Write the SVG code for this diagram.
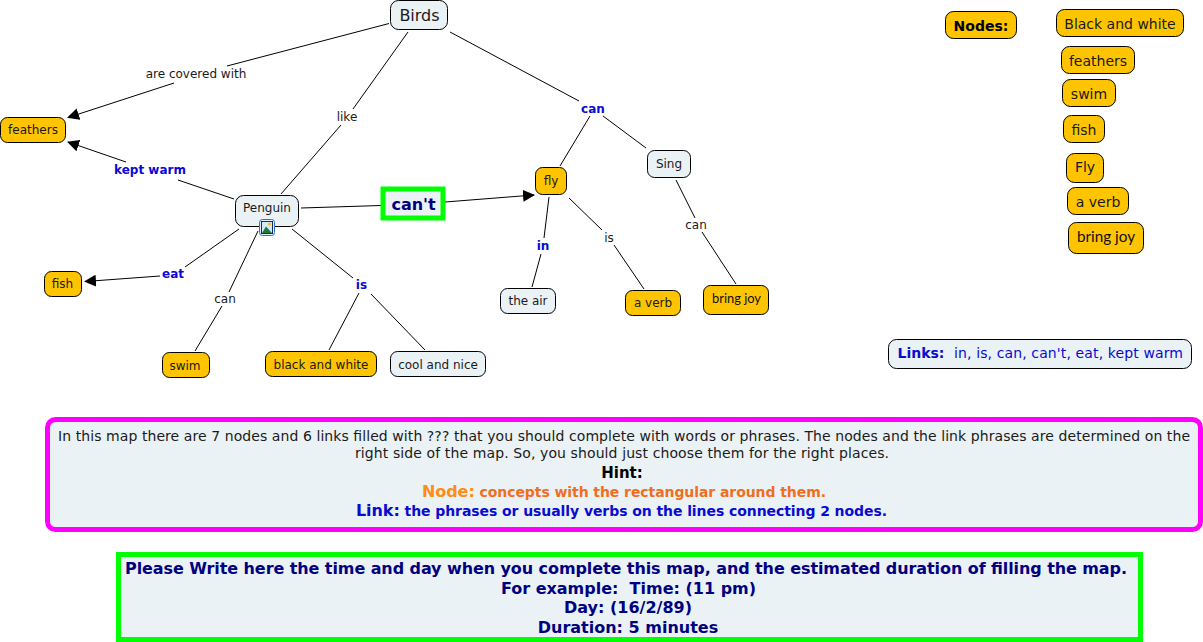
<svg xmlns="http://www.w3.org/2000/svg" width="1203" height="642" viewBox="0 0 1203 642">
<style>
text{font-family:"DejaVu Sans",Verdana,sans-serif;font-size:12px;fill:#1a1a1a;text-anchor:middle}
.n rect{stroke:#000;stroke-width:1}
.y rect{fill:#ffc400}
.g rect{fill:#ebf2f5}
.c line{stroke:#000;stroke-width:1}
.b{font-weight:bold;fill:#0a0ad2}
.r{font-size:14px}
.cm{font-family:"Lato","DejaVu Sans",sans-serif;font-weight:normal;fill:#111}
.nv{font-weight:bold;fill:#000080;font-size:16px}
</style>
<defs>
<marker id="a" markerUnits="userSpaceOnUse" markerWidth="12" markerHeight="12" viewBox="0 0 12 12" refX="11" refY="6" orient="auto"><path d="M0 0L12 6L0 12Z" fill="#000"/></marker>
</defs>
<g id="connectors" class="c">
<line x1="389" y1="23.500" x2="227" y2="66"/>
<line x1="174" y1="83" x2="68" y2="117.500" marker-end="url(#a)"/>
<line x1="408" y1="32" x2="353" y2="109"/>
<line x1="341" y1="125" x2="281" y2="194"/>
<line x1="450" y1="32" x2="579" y2="101"/>
<line x1="590" y1="116" x2="560" y2="166"/>
<line x1="603" y1="116" x2="646" y2="148"/>
<line x1="234" y1="199" x2="178" y2="180"/>
<line x1="126" y1="162" x2="68" y2="142" marker-end="url(#a)"/>
<line x1="301" y1="208" x2="381" y2="205.500"/>
<line x1="445" y1="202" x2="534" y2="195" marker-end="url(#a)"/>
<line x1="239" y1="229" x2="185" y2="267"/>
<line x1="160" y1="276" x2="85" y2="281.500" marker-end="url(#a)"/>
<line x1="258" y1="231" x2="229" y2="292"/>
<line x1="222" y1="306" x2="195" y2="351"/>
<line x1="292" y1="229" x2="353" y2="278"/>
<line x1="359" y1="293" x2="329" y2="350"/>
<line x1="371" y1="294" x2="425" y2="350"/>
<line x1="549" y1="197" x2="544" y2="238"/>
<line x1="541" y1="254" x2="532" y2="287"/>
<line x1="569" y1="198" x2="602" y2="230"/>
<line x1="614" y1="245" x2="644" y2="289"/>
<line x1="676" y1="180" x2="695" y2="218"/>
<line x1="702" y1="232" x2="736" y2="284"/>
</g>
<g id="node-birds" class="n g"><rect x="390.500" y="0.500" width="57" height="29" rx="8"/><text x="419.500" y="21" style="font-size:16px">Birds</text></g>
<g id="node-penguin" class="n g"><rect x="235.500" y="195.500" width="63" height="31" rx="8"/><text x="267" y="212">Penguin</text></g>
<g id="penguin-icon"><rect x="259.500" y="219.500" width="15" height="16" rx="3" fill="#e6f0fb" stroke="#2f6fd0"/><rect x="261.500" y="221.500" width="11" height="12" fill="#d5e8f7" stroke="#10305a"/><path d="M262 233L266 226.500L272 233Z" fill="#1f7a3a"/><circle cx="269.500" cy="224" r="1.600" fill="#f0c020"/></g>
<g id="node-feathers" class="n y"><rect x="0.500" y="117.500" width="65" height="25" rx="7"/><text x="33" y="134">feathers</text></g>
<g id="node-fish" class="n y"><rect x="44.500" y="271.500" width="37" height="25" rx="7"/><text x="62.500" y="288">fish</text></g>
<g id="node-swim" class="n y"><rect x="162.500" y="352.500" width="47" height="25" rx="7"/><text x="185" y="370">swim</text></g>
<g id="node-bw" class="n y"><rect x="265.500" y="351.500" width="111" height="25" rx="7"/><text x="321" y="368.500">black and white</text></g>
<g id="node-cool" class="n g"><rect x="390.500" y="351.500" width="95" height="25" rx="7"/><text x="438" y="368.500">cool and nice</text></g>
<g id="node-fly" class="n y"><rect x="535.500" y="167.500" width="31" height="27" rx="7"/><text x="551" y="185">fly</text></g>
<g id="node-sing" class="n g"><rect x="647.500" y="150.500" width="43" height="27" rx="7"/><text x="669" y="168">Sing</text></g>
<g id="node-air" class="n g"><rect x="500.500" y="288.500" width="55" height="25" rx="7"/><text x="528" y="305">the air</text></g>
<g id="node-verb" class="n y"><rect x="625.500" y="290.500" width="55" height="25" rx="7"/><text x="653" y="307">a verb</text></g>
<g id="node-joy" class="n y"><rect x="703.500" y="285.500" width="65" height="29" rx="7"/><text x="736.500" y="303" class="cm" style="font-size:13px" textLength="49" lengthAdjust="spacingAndGlyphs">bring joy</text></g>
<g id="label-covered"><text x="196" y="78">are covered with</text></g>
<g id="label-like"><text x="347" y="121">like</text></g>
<g id="label-can1"><text x="593" y="113" class="b">can</text></g>
<g id="label-kept"><text x="150" y="174" class="b">kept warm</text></g>
<g id="label-eat"><text x="173" y="278" class="b">eat</text></g>
<g id="label-can2"><text x="225" y="303">can</text></g>
<g id="label-is"><text x="361.500" y="289" class="b">is</text></g>
<g id="label-in"><text x="543" y="250" class="b">in</text></g>
<g id="label-is2"><text x="609" y="242">is</text></g>
<g id="label-can3"><text x="696" y="229">can</text></g>
<g id="node-cant"><rect x="383" y="189" width="60" height="29" fill="#ebf2f5" stroke="#00ff00" stroke-width="5"/><text x="413.500" y="210" style="font-size:16px;font-weight:bold;fill:#000080">can't</text></g>
<g id="node-nodes" class="n y"><rect x="945.500" y="11.500" width="71" height="27" rx="8"/><text x="981" y="31" style="font-size:14px;font-weight:bold;fill:#000">Nodes:</text></g>
<g id="legend-bw" class="n y"><rect x="1056.500" y="9.500" width="127" height="27" rx="8"/><text x="1120" y="29" class="r">Black and white</text></g>
<g id="legend-feathers" class="n y"><rect x="1061.500" y="46.500" width="73" height="27" rx="8"/><text x="1098" y="66" class="r">feathers</text></g>
<g id="legend-swim" class="n y"><rect x="1062.500" y="79.500" width="53" height="27" rx="8"/><text x="1089" y="99" class="r">swim</text></g>
<g id="legend-fish" class="n y"><rect x="1063.500" y="115.500" width="41" height="27" rx="8"/><text x="1084" y="135" class="r">fish</text></g>
<g id="legend-fly" class="n y"><rect x="1066.500" y="153.500" width="37" height="29" rx="8"/><text x="1085" y="172" class="r">Fly</text></g>
<g id="legend-verb" class="n y"><rect x="1067.500" y="187.500" width="61" height="27" rx="8"/><text x="1098" y="207" class="r">a verb</text></g>
<g id="legend-joy" class="n y"><rect x="1068.500" y="222.500" width="75" height="31" rx="8"/><text x="1106" y="242" class="cm" style="font-size:15px" textLength="58" lengthAdjust="spacingAndGlyphs">bring joy</text></g>
<g id="node-links" class="n g"><rect x="888.500" y="339.500" width="303" height="29" rx="8"/><text x="921" y="358" style="font-size:14px;font-weight:bold;fill:#0a0ad2">Links:</text><text x="1068.500" y="358" style="font-size:14px;fill:#0a0ad2" textLength="229" lengthAdjust="spacing">in, is, can, can't, eat, kept warm</text></g>
<g id="note-hint"><rect x="47.500" y="419.500" width="1153" height="110" rx="8" fill="#ebf2f5" stroke="#ff00ff" stroke-width="5"/>
<text x="624" y="441" style="font-size:14px" textLength="1132" lengthAdjust="spacing">In this map there are 7 nodes and 6 links filled with ??? that you should complete with words or phrases. The nodes and the link phrases are determined on the</text>
<text x="622" y="458" style="font-size:14px" textLength="534" lengthAdjust="spacing">right side of the map. So, you should just choose them for the right places.</text>
<text x="622" y="478" style="font-size:15px;font-weight:bold;fill:#000">Hint:</text>
<text x="624" y="497" style="font-weight:bold;font-size:14px;fill:#f06e1e" textLength="404" lengthAdjust="spacing"><tspan style="font-size:16px;fill:#ff8c14">Node:</tspan> concepts with the rectangular around them.</text>
<text x="621.500" y="516" style="font-weight:bold;font-size:14px;fill:#0a0ad2" textLength="531" lengthAdjust="spacing"><tspan style="font-size:16px">Link:</tspan> the phrases or usually verbs on the lines connecting 2 nodes.</text></g>
<g id="note-time"><rect x="118.500" y="554.500" width="1022" height="85" fill="#ebf2f5" stroke="#00ff00" stroke-width="5"/>
<text x="626" y="574" class="nv" textLength="1002" lengthAdjust="spacing">Please Write here the time and day when you complete this map, and the estimated duration of filling the map.</text>
<text x="628.500" y="594" class="nv" xml:space="preserve">For example:  Time: (11 pm)</text>
<text x="628" y="613" class="nv">Day: (16/2/89)</text>
<text x="628" y="633" class="nv">Duration: 5 minutes</text></g>
</svg>
